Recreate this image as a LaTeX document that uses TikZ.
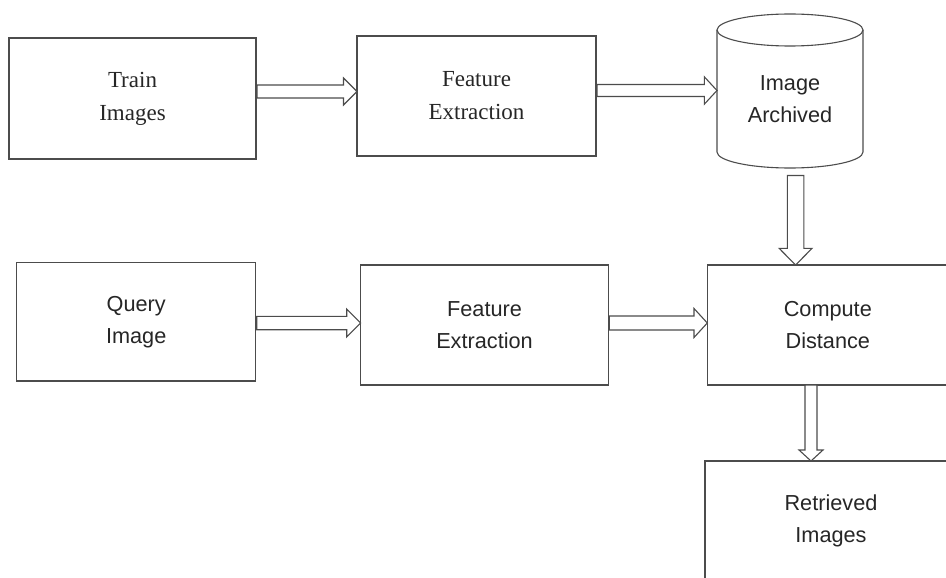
\documentclass[tikz,border=0pt]{standalone}
\usepackage{fontspec}
\setmainfont{Liberation Serif}
\setsansfont{Liberation Sans}
\usetikzlibrary{calc}
\newcommand\harr[6]{% from, to, y, shaft half, head half, head length
  \draw[blockarrow] ($(#1.east |- 0,#3)+(1,-#4)$) -- ($(#2.west |- 0,#3)+(-#6,-#4)$)
    -- ($(#2.west |- 0,#3)+(-#6,-#5)$) -- (#2.west |- 0,#3)
    -- ($(#2.west |- 0,#3)+(-#6,#5)$) -- ($(#2.west |- 0,#3)+(-#6,#4)$)
    -- ($(#1.east |- 0,#3)+(1,#4)$) -- cycle;}
\newcommand\varr[7]{% from, to, x, start gap, shaft half, head half, head length
  \draw[blockarrow] ($(#3,0 |- #1.south)+(-#5,#4)$) -- ($(#3,0 |- #2.north)+(-#5,-#7)$)
    -- ($(#3,0 |- #2.north)+(-#6,-#7)$) -- (#3,0 |- #2.north)
    -- ($(#3,0 |- #2.north)+(#6,-#7)$) -- ($(#3,0 |- #2.north)+(#5,-#7)$)
    -- ($(#3,0 |- #1.south)+(#5,#4)$) -- cycle;}
\begin{document}
\begin{tikzpicture}[x=1pt,y=-1pt,
  box/.style={draw=black!70, line width=1.2pt, inner sep=0pt, outer sep=0pt,
    align=center, text=black!85},
  serifbox/.style={box, font=\fontsize{23}{33}\selectfont},
  sansbox/.style={box, font=\sffamily\fontsize{21.7}{32}\selectfont},
  blockarrow/.style={draw=black!70, line width=1.1pt, fill=white, line join=miter},
  cyl/.style={draw=black!70, line width=1.1pt}]
\useasboundingbox (0,0) rectangle (946,578);
\clip (0,0) rectangle (946,578);
% top row
\node[serifbox, minimum width=247pt, minimum height=121pt] (train) at (132.5,98.5) {Train\\Images};
\node[serifbox, minimum width=239pt, minimum height=120pt] (fe1) at (476.5,96) {Feature\\Extraction};
\node[sansbox, draw=none, minimum width=146pt, minimum height=138pt] (arch) at (790,99) {Image\\Archived};
\draw[cyl] (arch.north) ellipse [x radius=73pt, y radius=16pt];
\draw[cyl] (arch.north west) -- ($(arch.south west)+(0,-16)$)
  arc[start angle=180, end angle=360, x radius=73pt, y radius=16pt] -- (arch.north east);
% middle row
\node[sansbox, minimum width=239pt, minimum height=118.7pt] (query) at (136.2,321.7) {Query\\Image};
\node[sansbox, minimum width=247.6pt, minimum height=120pt] (fe2) at (484.5,325) {Feature\\Extraction};
\node[sansbox, minimum width=241pt, minimum height=120pt] (compute) at (827.8,325) {Compute\\Distance};
% bottom
\node[sansbox, minimum width=252pt, minimum height=120pt] (retr) at (831,521) {Retrieved\\Images};
% arrows
\harr{train}{fe1}{91.5}{6.5}{13.5}{13.5}
\harr{fe1}{arch}{90.5}{6}{13.7}{12.7}
\harr{query}{fe2}{323}{6.7}{14}{14}
\harr{fe2}{compute}{323}{7}{14.5}{13.3}
\varr{arch}{compute}{795.6}{7.5}{8.3}{16.5}{16.7}
\varr{compute}{retr}{811}{0}{6}{12}{11}
\end{tikzpicture}
\end{document}
